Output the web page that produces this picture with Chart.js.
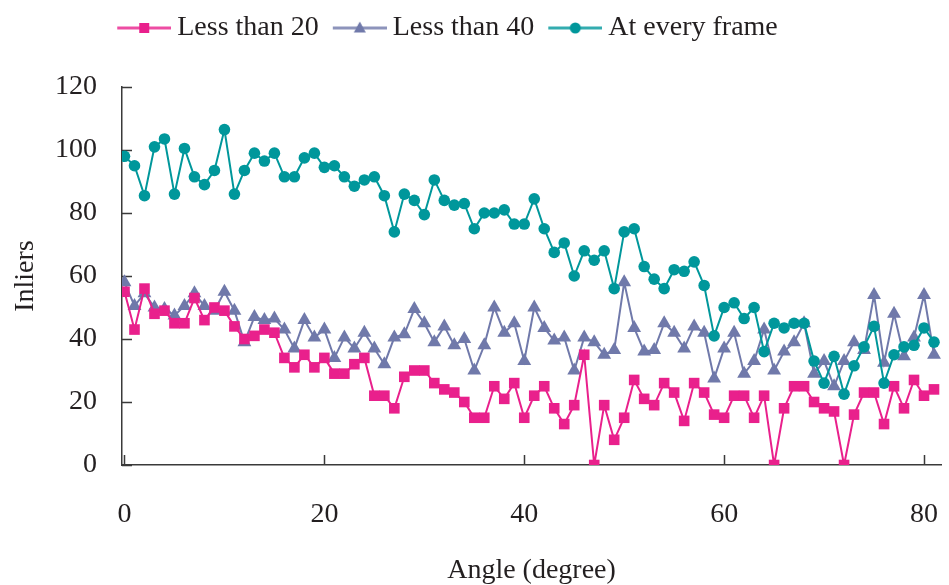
<!DOCTYPE html>
<html>
<head>
<meta charset="utf-8">
<script src="https://cdn.jsdelivr.net/npm/chart.js@4"></script>
<style>
  html, body { margin: 0; padding: 0; background: #fff; }
  #wrap { width: 949px; height: 585px; position: relative; }
</style>
</head>
<body>
<div id="wrap"><canvas id="inliersChart"></canvas></div>
<script>
// angle of each frame (degree)
const angles = [0,1,2,3,4,5,6,7,8,9,10,11,12,13,14,15,16,17,18,19,20,21,22,23,24,25,26,27,28,29,
  30,31,32,33,34,35,36,37,38,39,40,41,42,43,44,45,46,47,48,49,50,51,52,53,54,55,56,57,58,59,
  60,61,62,63,64,65,66,67,68,69,70,71,72,73,74,75,76,77,78,79,80,81];

const lessThan20 = [55,43,56,48,49,45,45,53,46,50, 49,44,40,41,43,42,34,31,35,31,
  34,29,29,32,34,22,22,18,28,30, 30,26,24,23,20,15,15,25,21,26,
  15,22,25,18,13,19,35,0,19,8, 15,27,21,19,26,23,14,26,23,16,
  15,22,22,15,22,0,18,25,25,20, 18,17,0,16,23,23,13,25,18,27, 22,24];

const lessThan40 = [58,50.5,54.5,50,49.5,47.5,50.5,54.5,50.5,49, 55,49,39,47,46,46.5,43,37,46,40.5,
  43,34,40.5,37,42,37,32,40.5,41.5,49.5, 45,39,44,38,40,30,38,50,42,45,
  33,50,43.5,39.5,40.5,30,40.5,39,35,36.5, 58,43.5,36,36.5,45,42,37,44,42,27.5,
  37,42,29,33,43,30,36,39,45,29, 33,25,33,39,36.5,54,32.5,48,34.5,40.5, 54,35];

const atEveryFrame = [98,95,85.5,101,103.5,86,100.5,91.5,89,93.5, 106.5,86,93.5,99,96.5,99,91.5,91.5,97.5,99,
  94.5,95,91.5,88.5,90.5,91.5,85.5,74,86,84, 79.5,90.5,84,82.5,83,75,80,80,81,76.5,
  76.5,84.5,75,67.5,70.5,60,68,65,68,56, 74,75,63,59,56,62,61.5,64.5,57,41,
  50,51.5,46.5,50,36,45,43.5,45,45,33, 26,34.5,22.5,31.5,37.5,44,26,35,37.5,38, 43.5,39];

const xTicks = [0, 20, 40, 60, 80];
const yTicks = [0, 20, 40, 60, 80, 100, 120];

const seriesNames = ["Less than 20", "Less than 40", "At every frame"];
const colors = ["#e9208c", "#7079aa", "#00979b"];
const styles = ["rect", "triangle", "circle"];

const FONT = "'Liberation Serif', 'Times New Roman', serif";
const INK = "#231f20";

function toPoints(values) {
  return values.map((v, i) => ({ x: angles[i], y: v }));
}

// small line + marker picture for the legend (left part left transparent for spacing)
function legendIcon(color, style) {
  const c = document.createElement("canvas");
  c.width = 62; c.height = 16;
  const g = c.getContext("2d");
  g.strokeStyle = color;
  g.lineWidth = 3;
  g.globalAlpha = 0.8;
  g.beginPath(); g.moveTo(8, 8); g.lineTo(62, 8); g.stroke();
  g.globalAlpha = 1;
  g.fillStyle = color;
  g.beginPath();
  if (style === "rect") g.rect(30, 3, 10, 10);
  else if (style === "triangle") { g.moveTo(35, 1.5); g.lineTo(41, 12.5); g.lineTo(29, 12.5); g.closePath(); }
  else g.arc(35, 8, 5.5, 0, Math.PI * 2);
  g.fill();
  return c;
}
const icons = colors.map((c, i) => legendIcon(c, styles[i]));

// legend sits near the top, plot starts lower; legend slightly left of centre
const legendGap = {
  id: "legendGap",
  beforeInit(chart) {
    const fit = chart.legend.fit;
    chart.legend.fit = function () {
      fit.call(this);
      this.height += 35;
    };
  },
  afterLayout(chart) {
    chart.legend.right -= 54;
  }
};

// inward tick marks on both axes
const innerTicks = {
  id: "innerTicks",
  beforeDatasetsDraw(chart) {
    const { ctx, chartArea, scales } = chart;
    ctx.save();
    ctx.strokeStyle = "#3a3a3a";
    ctx.lineWidth = 1.5;
    ctx.beginPath();
    yTicks.forEach(v => {
      const y = Math.round(scales.y.getPixelForValue(v)) + 0.5;
      ctx.moveTo(chartArea.left, y); ctx.lineTo(chartArea.left + 10, y);
    });
    xTicks.forEach(v => {
      const x = Math.round(scales.x.getPixelForValue(v)) + 0.5;
      ctx.moveTo(x, chartArea.bottom); ctx.lineTo(x, chartArea.bottom - 10);
    });
    ctx.stroke();
    ctx.restore();
  }
};

const datasets = [lessThan20, lessThan40, atEveryFrame].map((vals, i) => ({
  label: seriesNames[i],
  data: toPoints(vals),
  borderColor: colors[i],
  backgroundColor: colors[i],
  borderWidth: 2,
  pointStyle: styles[i],
  pointRadius: [7.5, 8, 5.8][i],
  pointBorderWidth: 0,
  tension: 0,
  order: [2, 3, 1][i]
}));

new Chart(document.getElementById("inliersChart"), {
  type: "line",
  data: { datasets },
  plugins: [legendGap, innerTicks],
  options: {
    responsive: true,
    maintainAspectRatio: false,
    animation: false,
    layout: { padding: 0 },
    plugins: {
      tooltip: { enabled: false },
      legend: {
        position: "top",
        labels: {
          usePointStyle: true,
          pointStyleWidth: 46,
          boxHeight: 16,
          padding: 14,
          color: INK,
          font: { family: FONT, size: 28 },
          sort: (a, b) => a.datasetIndex - b.datasetIndex,
          generateLabels(chart) {
            const items = Chart.defaults.plugins.legend.labels.generateLabels(chart);
            items.forEach(it => { it.pointStyle = icons[it.datasetIndex]; });
            return items;
          }
        }
      }
    },
    scales: {
      x: {
        type: "linear",
        min: -0.25,
        max: 81.7,
        afterBuildTicks(scale) { scale.ticks = xTicks.map(v => ({ value: v })); },
        afterFit(scale) { scale.height = 120; scale.paddingRight = 0; scale.paddingLeft = 0; },
        grid: { drawOnChartArea: false, drawTicks: false },
        border: { display: true, color: "#3a3a3a", width: 1.5 },
        ticks: { padding: 33, color: INK, font: { family: FONT, size: 28 }, maxRotation: 0 },
        title: { display: true, text: "Angle (degree)", color: INK, font: { family: FONT, size: 28 }, padding: { top: 0, bottom: -2 } }
      },
      y: {
        min: 0,
        max: 120,
        afterBuildTicks(scale) { scale.ticks = yTicks.map(v => ({ value: v })); },
        afterFit(scale) { scale.width = 122; },
        grid: { drawOnChartArea: false, drawTicks: false },
        border: { display: true, color: "#3a3a3a", width: 1.5 },
        ticks: { padding: 25, color: INK, font: { family: FONT, size: 28 } },
        title: { display: true, text: "Inliers", color: INK, font: { family: FONT, size: 28 }, padding: { top: 9, bottom: 0 } }
      }
    }
  }
});
</script>
</body>
</html>
